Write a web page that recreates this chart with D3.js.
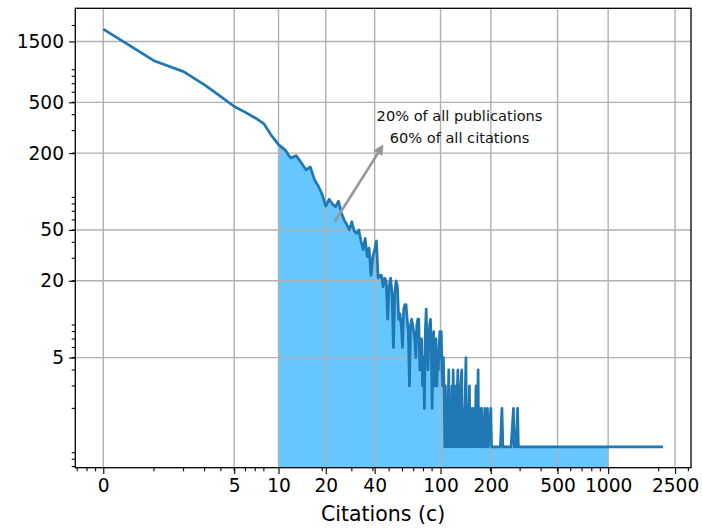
<!DOCTYPE html>
<html>
<head>
<meta charset="utf-8">
<script src="https://cdn.jsdelivr.net/npm/d3@7"></script>
<style>
  body { margin: 0; background: #fff; }
  text { font-family: "DejaVu Sans", sans-serif; }
</style>
</head>
<body>
<svg id="chart"></svg>
<script>
// citations per publication (c) and number of publications with c citations
const citations = [
  0, 1, 2, 3, 4, 5, 6, 7, 8, 9, 10, 11, 12, 13, 14, 15, 16, 17, 18, 19,
  20, 21, 22, 23, 24, 25, 26, 27, 28, 29, 30, 31, 32, 33, 34, 35, 36, 37, 38, 39,
  40, 41, 42, 43, 44, 45, 46, 47, 48, 49, 50, 51, 52, 53, 54, 55, 56, 57, 58, 59,
  60, 61, 62, 63, 64, 65, 66, 67, 68, 69, 70, 71, 72, 73, 74, 75, 76, 77, 78, 79,
  80, 81, 82, 83, 84, 85, 86, 87, 88, 89, 90, 91, 92, 93, 94, 95, 96, 97, 98, 99,
  100, 101, 102, 103, 104, 105, 106, 107, 108, 109, 110, 112, 113, 114, 115, 117, 118, 119, 120, 121,
  123, 124, 125, 127, 128, 129, 131, 132, 134, 135, 136, 138, 140, 142, 143, 145, 146, 149, 150, 152,
  153, 155, 157, 160, 161, 163, 165, 168, 169, 171, 173, 176, 177, 180, 184, 185, 188, 191, 193, 200,
  202, 207, 215, 222, 228, 233, 236, 245, 256, 264, 273, 276, 283, 289, 292, 310, 340, 380, 440, 520,
  620, 760, 900, 1000, 1200, 1500, 1800, 2120
];
const publications = [
  1870, 1060, 870, 685, 555, 464, 417, 377, 340, 274, 233, 213, 183, 191, 169, 148, 156, 124, 110, 95,
  77, 87, 80, 76, 84, 68, 60, 55, 50, 58, 49, 47, 50, 41, 35, 43, 31, 36, 22, 31,
  35, 41, 21, 22, 22, 18, 21, 20, 10, 18, 21, 16, 6, 16, 20, 18, 10, 11, 9, 6,
  12, 13, 13, 10, 8, 3, 9, 10, 9, 8, 7, 5, 9, 10, 10, 4, 6, 7, 3, 5,
  2, 8, 12, 6, 4, 7, 9, 10, 6, 2, 5, 8, 3, 6, 7, 3, 5, 4, 6, 8,
  5, 8, 4, 3, 5, 3, 1, 3, 1, 2, 1, 4, 1, 2, 1, 3, 1, 4, 2, 1,
  3, 1, 2, 4, 1, 2, 1, 3, 4, 1, 2, 1, 2, 5, 1, 2, 1, 3, 1, 2,
  1, 2, 1, 2, 1, 3, 1, 4, 1, 2, 1, 2, 1, 1, 2, 1, 1, 2, 1, 2,
  1, 1, 1, 1, 1, 2, 1, 1, 1, 1, 2, 1, 1, 2, 1, 1, 1, 1, 1, 1,
  1, 1, 1, 1, 1, 1, 1, 1
];

const xTicks = [0, 5, 10, 20, 40, 100, 200, 500, 1000, 2500];
const yTicks = [1500, 500, 200, 50, 20, 5];

// shaded range: 20% of publications, 60% of citations
const shadeFrom = 10, shadeTo = 1000;
const noteLines = ["20% of all publications", "60% of all citations"];
const noteAt = {c: 130, n: 355};
const arrowFrom = {c: 22.7, n: 58};
const arrowTo = {c: 44.5, n: 226};

const data = citations.map((c, i) => ({c: c, n: publications[i]}));

const width = 702, height = 529;
const margin = {top: 8.3, right: 11, bottom: 61.3, left: 75.3};

const svg = d3.select("#chart")
  .attr("width", width)
  .attr("height", height);

// x is drawn on log(c + 1), y on log(n)
const xScale = d3.scaleLog()
  .domain([0.682, 3110])
  .range([margin.left, width - margin.right]);
const yScale = d3.scaleLog()
  .domain([0.686, 2727])
  .range([height - margin.bottom, margin.top]);
const xc = c => xScale(c + 1);

const plotBottom = height - margin.bottom;

// shaded area
const shaded = data.filter(d => d.c >= shadeFrom && d.c <= shadeTo);
const area = d3.area()
  .x(d => xc(d.c))
  .y0(plotBottom)
  .y1(d => yScale(d.n));
svg.append("path")
  .attr("d", area(shaded))
  .attr("fill", "#66c6ff")
  .attr("stroke", "none");

// grid
svg.append("g")
  .selectAll("line")
  .data(xTicks)
  .join("line")
  .attr("x1", d => xc(d)).attr("x2", d => xc(d))
  .attr("y1", margin.top).attr("y2", plotBottom)
  .attr("stroke", "#b0b0b0").attr("stroke-width", 1.4);
svg.append("g")
  .selectAll("line")
  .data(yTicks)
  .join("line")
  .attr("x1", margin.left).attr("x2", width - margin.right)
  .attr("y1", d => yScale(d)).attr("y2", d => yScale(d))
  .attr("stroke", "#b0b0b0").attr("stroke-width", 1.4);

// line
const line = d3.line()
  .x(d => xc(d.c))
  .y(d => yScale(d.n));
svg.append("path")
  .datum(data)
  .attr("d", line)
  .attr("fill", "none")
  .attr("stroke", "#1f77b4")
  .attr("stroke-width", 2.7)
  .attr("stroke-linejoin", "round");

// minor ticks (log decades)
const xMinor = [];
[0.1, 1, 10, 100, 1000].forEach(k => {
  for (let m = 2; m <= 9; m++) {
    const v = m * k;
    if (v > 0.682 && v < 3110) xMinor.push(v);
  }
});
const yMinor = [];
[0.1, 1, 10, 100, 1000].forEach(k => {
  for (let m = 2; m <= 9; m++) {
    const v = m * k;
    if (v > 0.686 && v < 2727) yMinor.push(v);
  }
});

const xAxis = d3.axisBottom(xScale)
  .tickValues(xTicks.map(d => d + 1))
  .tickFormat((d, i) => xTicks[i])
  .tickSize(6.3)
  .tickPadding(5);
const gx = svg.append("g")
  .attr("transform", `translate(0,${plotBottom})`)
  .call(xAxis);
gx.append("g")
  .selectAll("line")
  .data(xMinor)
  .join("line")
  .attr("x1", d => xScale(d)).attr("x2", d => xScale(d))
  .attr("y1", 0).attr("y2", 3.6)
  .attr("stroke", "#000").attr("stroke-width", 1.1);

const yAxis = d3.axisLeft(yScale)
  .tickValues(yTicks)
  .tickFormat(d3.format("d"))
  .tickSize(6.3)
  .tickPadding(5);
const gy = svg.append("g")
  .attr("transform", `translate(${margin.left},0)`)
  .call(yAxis);
gy.append("g")
  .selectAll("line")
  .data(yMinor)
  .join("line")
  .attr("x1", 0).attr("x2", -3.6)
  .attr("y1", d => yScale(d)).attr("y2", d => yScale(d))
  .attr("stroke", "#000").attr("stroke-width", 1.1);

[gx, gy].forEach(g => {
  g.select(".domain").remove();
  g.selectAll(".tick line").attr("stroke", "#000").attr("stroke-width", 1.1);
  g.selectAll(".tick text")
    .attr("font-family", "DejaVu Sans")
    .attr("font-size", 18.6)
    .attr("fill", "#000");
});

// frame
svg.append("rect")
  .attr("x", margin.left).attr("y", margin.top)
  .attr("width", width - margin.right - margin.left)
  .attr("height", plotBottom - margin.top)
  .attr("fill", "none")
  .attr("stroke", "#000")
  .attr("stroke-width", 1.3);

// x label
svg.append("text")
  .attr("x", (margin.left + width - margin.right) / 2)
  .attr("y", 521)
  .attr("text-anchor", "middle")
  .attr("font-size", 20.5)
  .attr("fill", "#000")
  .text("Citations (c)");

// annotation arrow
const defs = svg.append("defs");
defs.append("marker")
  .attr("id", "head")
  .attr("viewBox", "0 0 10 10")
  .attr("refX", 8).attr("refY", 5)
  .attr("markerWidth", 4).attr("markerHeight", 4)
  .attr("markerUnits", "strokeWidth")
  .attr("orient", "auto")
  .append("path")
  .attr("d", "M0,0 L10,5 L0,10 Z")
  .attr("fill", "#969696");

svg.append("line")
  .attr("x1", xc(arrowFrom.c)).attr("y1", yScale(arrowFrom.n))
  .attr("x2", xc(arrowTo.c)).attr("y2", yScale(arrowTo.n))
  .attr("stroke", "#969696")
  .attr("stroke-width", 2.6)
  .attr("marker-end", "url(#head)");

svg.append("text")
  .attr("x", xc(noteAt.c))
  .attr("y", yScale(noteAt.n))
  .attr("text-anchor", "middle")
  .attr("font-family", "Open Sans")
  .attr("font-size", 14.6)
  .attr("fill", "#111")
  .selectAll("tspan")
  .data(noteLines)
  .join("tspan")
  .attr("x", xc(noteAt.c))
  .attr("dy", (d, i) => i === 0 ? 0 : 22)
  .text(d => d);
</script>
</body>
</html>
